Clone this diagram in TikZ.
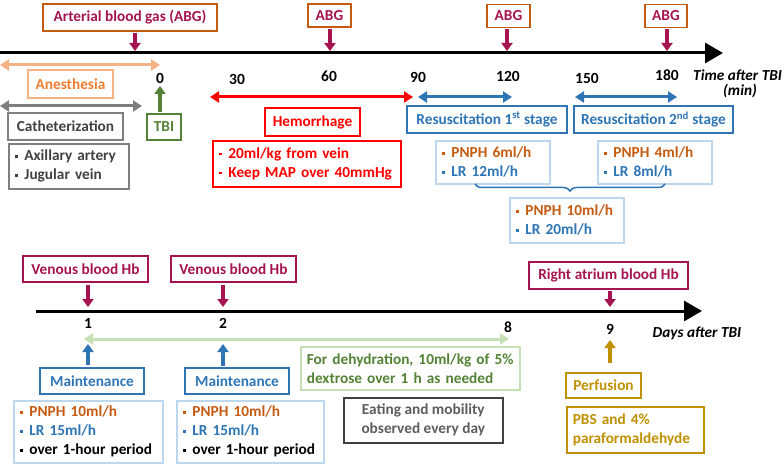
\documentclass[tikz,border=0pt]{standalone}
\usepackage{fontspec}
\setmainfont{Carlito}
\usetikzlibrary{arrows.meta,decorations.pathreplacing}
\definecolor{abgor}{RGB}{197,90,17}
\definecolor{crim}{RGB}{165,20,80}
\definecolor{anlight}{RGB}{244,177,131}
\definecolor{antext}{RGB}{237,125,49}
\definecolor{gborder}{RGB}{127,127,127}
\definecolor{gtext}{RGB}{64,64,64}
\definecolor{tbigreen}{RGB}{84,130,53}
\definecolor{hred}{RGB}{255,0,0}
\definecolor{rblue}{RGB}{46,117,182}
\definecolor{lblue}{RGB}{189,215,238}
\definecolor{pnph}{RGB}{197,90,17}
\definecolor{lgreen}{RGB}{197,224,180}
\definecolor{lgarrow}{RGB}{197,224,180}
\definecolor{gold}{RGB}{191,144,0}
\definecolor{dgray}{RGB}{64,64,64}
\newcommand{\bul}{\rule[0.2em]{0.18em}{0.18em}\hspace{0.45em}}
\newcommand{\oneline}[1]{\mbox{#1}}
\tikzset{
  box/.style={draw, line width=1.6pt, font=\bfseries\fontsize{15.3}{19}\selectfont, inner sep=1pt, align=center},
  lbox/.style={box, anchor=north west, align=left, inner xsep=6pt},
  axisline/.style={line width=3pt, -{Triangle[length=18pt,width=20pt]}},
  downarr/.style={line width=3.5pt, -{Triangle[length=8pt,width=11pt]}},
  dblarr/.style={line width=3pt, {Triangle[length=9pt,width=11pt]}-{Triangle[length=9pt,width=11pt]}},
  tick/.style={font=\bfseries\fontsize{15.5}{16}\selectfont, inner sep=0pt},
  axlab/.style={font=\bfseries\itshape\fontsize{15.3}{16}\selectfont, inner sep=0pt},
}
\begin{document}
\begin{tikzpicture}[x=1pt,y=-1pt]
\useasboundingbox (0,0) rectangle (784,465);

% ---------- top timeline ----------
\coordinate (ta) at (0,53);
\coordinate (tb) at (723,53);
\draw[axisline] (ta) -- (tb);

\node[tick] (l0) at (160,78) {0};
\node[tick] (l30) at (237,79) {30};
\node[tick] (l60) at (329,76) {60};
\node[tick] (l90) at (418,77) {90};
\node[tick] (l120) at (508,76) {120};
\node[tick] (l150) at (587,78) {150};
\node[tick] (l180) at (667,75) {180};
\node[axlab, anchor=west] (tlab) at (693,75) {Time after TBI};
\node[axlab] (tlab2) at (740,91) {(min)};

% ABG boxes
\node[box, draw=abgor, text=crim, minimum width=174pt, minimum height=27pt] (abg0) at (130,17.5) {Arterial blood gas (ABG)};
\node[box, draw=abgor, text=crim, minimum width=43pt, minimum height=23pt] (abg60) at (329.5,15.5) {ABG};
\node[box, draw=abgor, text=crim, minimum width=43pt, minimum height=23pt] (abg120) at (508.5,16) {ABG};
\node[box, draw=abgor, text=crim, minimum width=42pt, minimum height=23pt] (abg180) at (666,16) {ABG};
\coordinate (a0s) at (135,33); \coordinate (a0e) at (135,51);
\coordinate (a60s) at (330,29); \coordinate (a60e) at (330,51);
\coordinate (a120s) at (507,29); \coordinate (a120e) at (507,51);
\coordinate (a180s) at (667,29); \coordinate (a180e) at (667,51);
\draw[downarr, crim] (a0s) -- (a0e);
\draw[downarr, crim] (a60s) -- (a60e);
\draw[downarr, crim] (a120s) -- (a120e);
\draw[downarr, crim] (a180s) -- (a180e);

% Anesthesia
\coordinate (an1) at (0,65); \coordinate (an2) at (160,65);
\draw[dblarr, anlight] (an1) -- (an2);
\node[box, draw=anlight, text=antext, minimum width=85pt, minimum height=28pt] (anes) at (70.5,84) {Anesthesia};

% Catheterization
\coordinate (ca1) at (0,106); \coordinate (ca2) at (142,106);
\draw[dblarr, gborder] (ca1) -- (ca2);
\node[box, draw=gborder, text=gtext, minimum width=115pt, minimum height=27pt] (cath) at (65.5,126.5) {Catheterization};
\node[lbox, draw=gborder, text=gtext, minimum width=120pt, minimum height=45pt, text width=108pt] (cathd) at (8,143) {\oneline{\bul Axillary artery}\\\oneline{\bul Jugular vein}};

% TBI
\node[box, draw=tbigreen, text=tbigreen, minimum width=34pt, minimum height=26pt] (tbi) at (164,127) {TBI};
\coordinate (tbis) at (160,112); \coordinate (tbie) at (160,86);
\draw[downarr, tbigreen] (tbis) -- (tbie);

% Hemorrhage
\coordinate (h1) at (210,97); \coordinate (h2) at (413,97);
\draw[dblarr, hred] (h1) -- (h2);
\node[box, draw=hred, text=hred, minimum width=95pt, minimum height=28pt] (hem) at (312.5,122) {Hemorrhage};
\node[lbox, draw=hred, text=hred, minimum width=188pt, minimum height=46pt, text width=176pt] (hemd) at (212,140) {\oneline{\bul 20ml/kg from vein}\\\oneline{\bul Keep MAP over 40mmHg}};

% Resuscitation
\coordinate (r1a) at (418,97); \coordinate (r1b) at (512,97);
\draw[dblarr, rblue] (r1a) -- (r1b);
\coordinate (r2a) at (575,97); \coordinate (r2b) at (677,97);
\draw[dblarr, rblue] (r2a) -- (r2b);
\node[box, draw=rblue, text=rblue, minimum width=160pt, minimum height=27pt] (res1) at (487,119.5) {Resuscitation 1\textsuperscript{st} stage};
\node[box, draw=rblue, text=rblue, minimum width=159pt, minimum height=27pt] (res2) at (653.5,119.5) {Resuscitation 2\textsuperscript{nd} stage};
\node[lbox, draw=lblue, minimum width=114pt, minimum height=43pt, text width=102pt] (p6) at (435,140) {\textcolor{pnph}{\oneline{\bul PNPH 6ml/h}}\\\textcolor{rblue}{\oneline{\bul LR 12ml/h}}};
\node[lbox, draw=lblue, minimum width=114pt, minimum height=43pt, text width=102pt] (p4) at (597,140) {\textcolor{pnph}{\oneline{\bul PNPH 4ml/h}}\\\textcolor{rblue}{\oneline{\bul LR 8ml/h}}};
\coordinate (br1) at (475,184); \coordinate (br2) at (665,184);
\draw[rblue, line width=1.5pt, decorate, decoration={brace, mirror, amplitude=7pt}] (br1) -- (br2);
\node[lbox, draw=lblue, minimum width=114pt, minimum height=45pt, text width=102pt] (p10) at (509,197) {\textcolor{pnph}{\oneline{\bul PNPH 10ml/h}}\\\textcolor{rblue}{\oneline{\bul LR 20ml/h}}};

% ---------- bottom timeline ----------
\coordinate (ba) at (36,311);
\coordinate (bb) at (702,311);
\draw[axisline] (ba) -- (bb);
\node[tick] (d1) at (88,323) {1};
\node[tick] (d2) at (223,323) {2};
\node[tick] (d8) at (508,327) {8};
\node[tick] (d9) at (610,329) {9};
\node[axlab] (dlab) at (697,333) {Days after TBI};

\node[box, draw=crim, text=crim, minimum width=125pt, minimum height=26pt] (v1) at (85.5,269) {Venous blood Hb};
\node[box, draw=crim, text=crim, minimum width=125pt, minimum height=26pt] (v2) at (233.5,269) {Venous blood Hb};
\node[box, draw=crim, text=crim, minimum width=159pt, minimum height=27pt] (ra) at (608.5,275.5) {Right atrium blood Hb};
\coordinate (v1s) at (88,285); \coordinate (v1e) at (88,307);
\coordinate (v2s) at (223,285); \coordinate (v2e) at (223,307);
\coordinate (ras) at (610,291); \coordinate (rae) at (610,307);
\draw[downarr, crim] (v1s) -- (v1e);
\draw[downarr, crim] (v2s) -- (v2e);
\draw[downarr, crim] (ras) -- (rae);

% dehydration arrow
\coordinate (g1) at (84,339); \coordinate (g2) at (509,339);
\draw[dblarr, lgarrow] (g1) -- (g2);
\node[lbox, draw=lgreen, text=tbigreen, minimum width=219pt, minimum height=43pt, text width=207pt] (dehy) at (300,346) {\oneline{For dehydration, 10ml/kg of 5\%}\\\oneline{dextrose over 1 h as needed}};
\node[box, draw=dgray, text=dgray!85, minimum width=159pt, minimum height=45pt, anchor=north west] (eat) at (343,397) {Eating and mobility\\observed every day};

% maintenance
\coordinate (m1s) at (88,365); \coordinate (m1e) at (88,344);
\coordinate (m2s) at (223,366); \coordinate (m2e) at (223,344);
\draw[downarr, rblue] (m1s) -- (m1e);
\draw[downarr, rblue] (m2s) -- (m2e);
\node[box, draw=rblue, text=rblue, minimum width=104pt, minimum height=26pt] (m1) at (92,381) {Maintenance};
\node[box, draw=rblue, text=rblue, minimum width=104pt, minimum height=26pt] (m2) at (237,381) {Maintenance};
\node[lbox, draw=lblue, minimum width=149pt, minimum height=62pt, text width=137pt] (md1) at (13,400) {\textcolor{pnph}{\oneline{\bul PNPH 10ml/h}}\\\textcolor{rblue}{\oneline{\bul LR 15ml/h}}\\\oneline{\bul over 1-hour period}};
\node[lbox, draw=lblue, minimum width=147pt, minimum height=62pt, text width=135pt] (md2) at (176,400) {\textcolor{pnph}{\oneline{\bul PNPH 10ml/h}}\\\textcolor{rblue}{\oneline{\bul LR 15ml/h}}\\\oneline{\bul over 1-hour period}};

% perfusion
\coordinate (pfs) at (610,363); \coordinate (pfe) at (610,340);
\draw[downarr, gold] (pfs) -- (pfe);
\node[box, draw=gold, text=gold, minimum width=75pt, minimum height=25pt] (perf) at (603.5,385.5) {Perfusion};
\node[lbox, draw=gold, text=gold, minimum width=137pt, minimum height=46pt, text width=125pt] (pbs) at (566,406) {\oneline{PBS and 4\%}\\\oneline{paraformaldehyde}};
\end{tikzpicture}
\end{document}
